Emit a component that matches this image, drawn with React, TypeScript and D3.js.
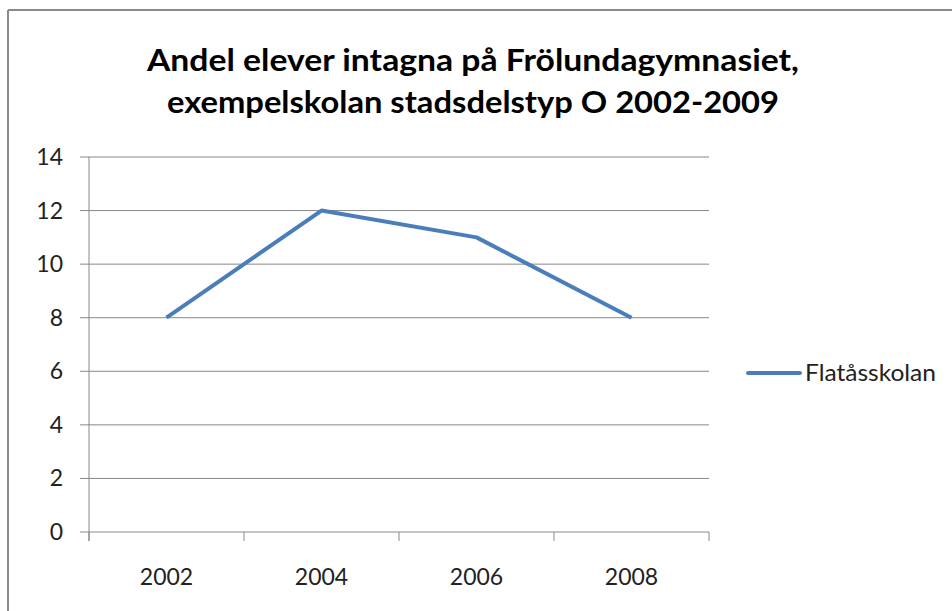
import React from "react";
import * as d3 from "d3";

const categories: string[] = ["2002", "2004", "2006", "2008"];
const seriesName = "Flatåsskolan";
const values: number[] = [8, 12, 11, 8];
const yTicks: number[] = [0, 2, 4, 6, 8, 10, 12, 14];
const titleLines: string[] = [
  "Andel elever intagna på Frölundagymnasiet,",
  "exempelskolan stadsdelstyp O 2002-2009",
];

export default function App() {
  const W = 952, H = 611;
  const left = 89, right = 709, top = 157, bottom = 532;
  const x = d3.scaleBand<string>().domain(categories).range([left, right]).padding(0);
  const y = d3.scaleLinear().domain([0, 14]).range([bottom, top]);
  const line = d3
    .line<number>()
    .x((_, i) => (x(categories[i]) as number) + x.bandwidth() / 2)
    .y((d) => y(d));
  const font = "Lato, 'Open Sans', sans-serif";
  const edges = [...categories.map((c) => x(c) as number), right];
  return (
    <svg width={W} height={H} style={{ position: "absolute", left: 0, top: 0, background: "#fff" }}>
      <rect x={0} y={0} width={W} height={H} fill="#fff" />
      <line x1={8} y1={10} x2={W} y2={10} stroke="#8a8a8a" strokeWidth={2} />
      <line x1={8} y1={10} x2={8} y2={H} stroke="#8a8a8a" strokeWidth={2} />
      {titleLines.map((t, i) => (
        <text
          key={i}
          x={473}
          y={71 + i * 42}
          textAnchor="middle"
          fontFamily={font}
          fontWeight="bold"
          fontSize={31}
          fill="#000"
          textLength={i === 0 ? 652 : 612}
          lengthAdjust="spacingAndGlyphs"
        >
          {t}
        </text>
      ))}
      {yTicks.map((t) => (
        <g key={t}>
          <line x1={80} x2={right} y1={y(t)} y2={y(t)} stroke="#888" strokeWidth={1} />
          <text x={63} y={y(t) + 8} textAnchor="end" fontFamily={font} fontSize={23} fill="#222">
            {t}
          </text>
        </g>
      ))}
      <line x1={left} x2={left} y1={top} y2={bottom + 9} stroke="#888" strokeWidth={1} />
      {edges.map((e, i) => (
        <line key={i} x1={e} x2={e} y1={bottom} y2={bottom + 9} stroke="#888" strokeWidth={1} />
      ))}
      {categories.map((c) => (
        <text
          key={c}
          x={(x(c) as number) + x.bandwidth() / 2}
          y={585}
          textAnchor="middle"
          fontFamily={font}
          fontSize={23}
          fill="#222"
        >
          {c}
        </text>
      ))}
      <path d={line(values) || ""} fill="none" stroke="#4a7ebb" strokeWidth={4} strokeLinejoin="round" />
      <line x1={748} x2={800} y1={373} y2={373} stroke="#4a7ebb" strokeWidth={4} strokeLinecap="round" />
      <text x={805} y={381} fontFamily={font} fontSize={23} fill="#222" textLength={131} lengthAdjust="spacingAndGlyphs">
        {seriesName}
      </text>
    </svg>
  );
}
